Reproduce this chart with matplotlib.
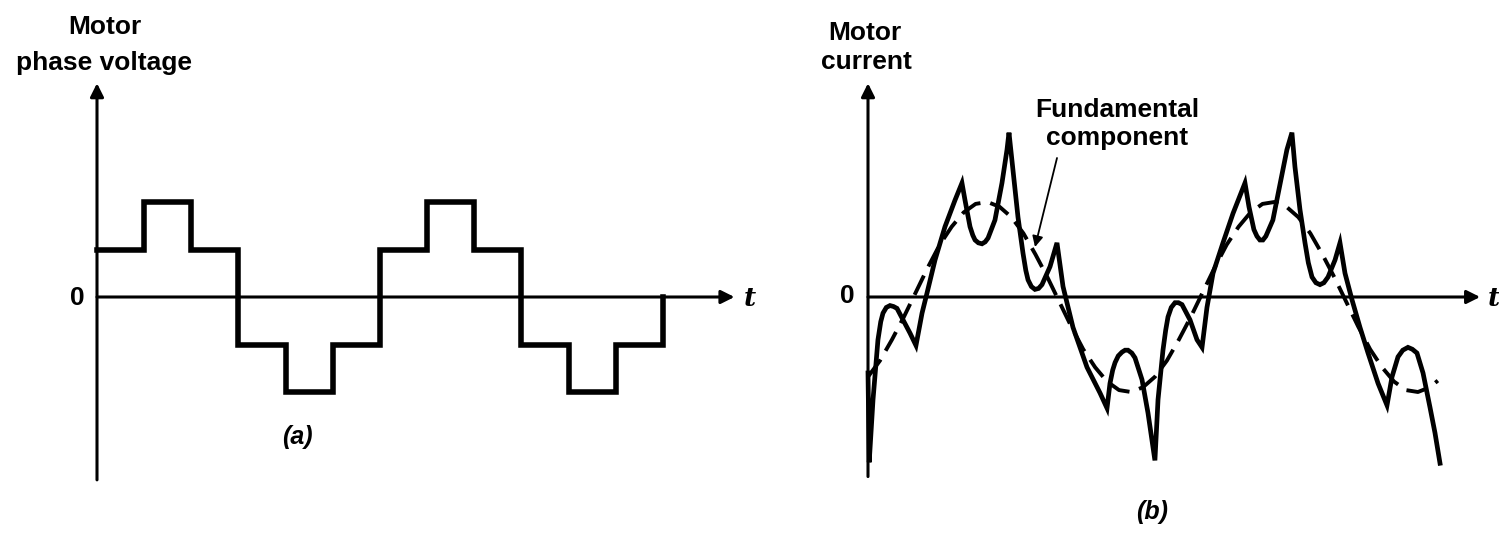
import matplotlib
matplotlib.use("Agg")
import matplotlib.pyplot as plt

# six-step phase voltage: switching instants (electrical degrees) and levels
step_deg = [0, 60, 120, 180, 240, 300, 360, 420, 480, 540, 600, 660, 720]
step_lvl = [1, 2, 1, -1, -2, -1, 1, 2, 1, -1, -2, -1, 0]

# motor current (degrees, per-unit of the fundamental peak)
cur_deg = [0, 1.5, 6.3, 12.5, 16.0, 18.8, 23.0, 27.6, 32.0, 36.4, 43.9, 52.7, 60.2,
           67.8, 74.0, 84.1, 96.6, 109.2, 117.9, 121.7, 128.0, 131.5, 134.3, 138.5,
           143.0, 147.0, 150.6, 159.3, 168.1, 174.4, 176.9, 188.2, 194.5, 198.0,
           200.8, 205.0, 209.5, 214.0, 218.3, 228.4, 237.1, 244.7, 257.2, 274.8,
           291.1, 299.9, 303.6, 307.0, 310.0, 314.0, 318.7, 322.5, 326.2, 331.0,
           335.0, 343.8, 351.3, 360.0, 363.9, 370.1, 373.5, 376.4, 380.5, 385.2,
           389.5, 394.0, 404.0, 412.8, 419.1, 425.3, 432.9, 445.4, 458.0, 473.0,
           478.0, 484.2, 488.0, 491.7, 495.5, 499.2, 508.0, 516.8, 525.6, 531.9,
           535.7, 542.0, 548.3, 552.5, 557.1, 562.0, 567.1, 572.0, 577.2, 586.0,
           592.2, 598.5, 607.3, 617.3, 627.4, 640.0, 651.2, 657.5, 665.0, 671.0,
           677.5, 683.0, 688.8, 696.4, 705.1, 711.4, 717.7]
cur_val = [-0.80, -1.74, -1.08, -0.45, -0.26, -0.17, -0.11, -0.09, -0.10, -0.12,
           -0.24, -0.38, -0.51, -0.17, 0.04, 0.39, 0.74, 1.02, 1.20, 1.02, 0.74,
           0.65, 0.60, 0.57, 0.56, 0.58, 0.62, 0.81, 1.20, 1.55, 1.73, 0.84, 0.46,
           0.28, 0.18, 0.11, 0.08, 0.09, 0.13, 0.32, 0.57, 0.11, -0.32, -0.74,
           -1.01, -1.17, -0.91, -0.77, -0.69, -0.62, -0.58, -0.56, -0.56, -0.59,
           -0.64, -0.87, -1.22, -1.72, -1.08, -0.56, -0.35, -0.21, -0.11, -0.06,
           -0.06, -0.08, -0.24, -0.45, -0.53, -0.11, 0.25, 0.57, 0.88, 1.20, 0.95,
           0.71, 0.64, 0.60, 0.60, 0.64, 0.81, 1.18, 1.55, 1.73, 1.37, 0.92, 0.57,
           0.36, 0.21, 0.15, 0.13, 0.15, 0.21, 0.39, 0.57, 0.25, -0.03, -0.32,
           -0.59, -0.91, -1.14, -0.84, -0.63, -0.56, -0.53, -0.55, -0.59, -0.80,
           -1.16, -1.43, -1.75]

# fundamental component of the current (dashed)
fund_deg = [0, 15, 30, 45, 60, 75, 90, 105, 120, 135, 150, 165, 180, 195, 210,
            225, 240, 255, 270, 285, 300, 315, 330, 345, 360, 375, 390, 405, 420,
            435, 450, 465, 480, 495, 510, 525, 540, 555, 570, 585, 600, 615, 630,
            645, 660, 675, 690, 705, 715]
fund_val = [-0.84, -0.67, -0.45, -0.21, 0.05, 0.31, 0.55, 0.74, 0.89, 0.98, 1.00,
            0.95, 0.84, 0.67, 0.45, 0.21, -0.05, -0.31, -0.55, -0.74, -0.89, -0.98,
            -1.00, -0.95, -0.84, -0.67, -0.45, -0.21, 0.05, 0.31, 0.55, 0.74, 0.89,
            0.98, 1.00, 0.95, 0.84, 0.67, 0.45, 0.21, -0.05, -0.31, -0.55, -0.74,
            -0.89, -0.98, -1.00, -0.95, -0.88]

W, H = 1499, 534
fig = plt.figure(figsize=(W / 100, H / 100), dpi=100)

LABEL = dict(family="Liberation Sans", fontweight="bold", fontsize=19, color="black")
TVAR = dict(family="DejaVu Serif", style="italic", fontweight="bold", fontsize=19)
CAPTION = dict(family="Liberation Sans", style="italic", fontweight="bold", fontsize=18)


def panel(x0, y0, sx, sy, left, right):
    # axes over a pixel strip, origin at (x0, y0) px, sx px/deg, sy px/unit
    ax = fig.add_axes([left / W, 0, (right - left) / W, 1])
    ax.set_xlim((left - x0) / sx, (right - x0) / sx)
    ax.set_ylim((y0 - H) / sy, y0 / sy)
    ax.axis("off")
    return ax


def axis_arrow(ax, start, end):
    ax.annotate("", xy=end, xytext=start,
                arrowprops=dict(arrowstyle="-|>", mutation_scale=20, lw=2.2,
                                color="black", shrinkA=0, shrinkB=0))


def ftext(x, y, s, **kw):
    fig.text(x / W, 1 - y / H, s, ha="center", va="center", **kw)


##Panel (a): phase voltage
axa = panel(97, 297, 0.786, 47.5, 0, 750)
axis_arrow(axa, (0, -3.85), (0, 4.5))
axis_arrow(axa, (0, 0), (811, 0))
axa.step(step_deg, step_lvl, where="post", color="black", lw=4.0,
         solid_joinstyle="miter")
ftext(105, 27, "Motor", **LABEL)
ftext(104, 63, "phase voltage", **LABEL)
ftext(77, 298, "0", **LABEL)
ftext(750, 298, "t", **TVAR)
ftext(297, 437, "(a)", **CAPTION)

##Panel (b): motor current
axb = panel(868, 297, 0.797, 95, 750, W)
axis_arrow(axb, (0, -1.89), (0, 2.25))
axis_arrow(axb, (0, 0), (768, 0))
axb.plot(fund_deg, fund_val, color="black", lw=2.8, linestyle=(0, (5.5, 2.6)))
axb.plot(cur_deg, cur_val, color="black", lw=3.4, solid_joinstyle="miter")
ftext(865, 33, "Motor", **LABEL)
ftext(866, 62, "current", **LABEL)
ftext(847, 296, "0", **LABEL)
ftext(1494, 298, "t", **TVAR)
ftext(1117, 110, "Fundamental", **LABEL)
ftext(1117, 138, "component", **LABEL)
ftext(1152, 512, "(b)", **CAPTION)
axb.annotate("", xy=((1035 - 868) / 0.797, (297 - 247) / 95),
             xytext=((1057 - 868) / 0.797, (297 - 158) / 95),
             arrowprops=dict(arrowstyle="-|>", mutation_scale=16, lw=1.3,
                             color="black", shrinkA=0, shrinkB=0))

fig.savefig("out.png", dpi=100, facecolor="white")
